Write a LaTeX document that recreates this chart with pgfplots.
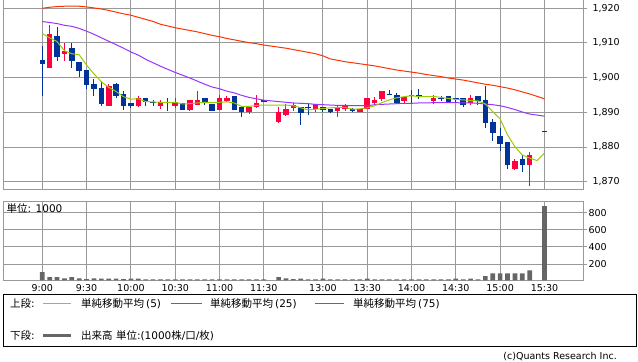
\documentclass[border=0pt]{standalone}
\usepackage{pgfplots}
\pgfplotsset{compat=1.18}
\usepackage{pgfplotstable}
\usepackage{fontspec}
\setmainfont{DejaVu Sans}
\newfontfamily\jp{Noto Sans CJK JP}
\definecolor{upc}{HTML}{FF0040}
\definecolor{dnc}{HTML}{003399}
\definecolor{maA}{HTML}{99CC00}
\definecolor{maB}{HTML}{9933FF}
\definecolor{maC}{HTML}{FF3300}
\definecolor{gridc}{HTML}{999999}
\definecolor{volc}{HTML}{666666}

\pgfplotstableread{
i B T L H
1 1902.9 1912.6 1902.9 1915.2
3 1906.9 1907.7 1904.8 1910.0
9 1891.9 1897.6 1891.9 1898.2
13 1891.8 1894.0 1891.5 1894.8
16 1891.9 1892.9 1890.9 1893.6
18 1891.9 1892.9 1891.2 1894.0
20 1890.7 1893.6 1890.4 1893.6
21 1892.1 1893.6 1892.1 1896.2
24 1890.7 1894.0 1890.7 1895.0
25 1893.3 1894.2 1892.9 1894.8
28 1890.0 1891.6 1889.4 1891.6
29 1891.6 1892.8 1891.3 1895.0
32 1887.3 1890.2 1887.0 1891.6
33 1889.2 1891.0 1889.0 1892.4
34 1891.3 1892.1 1890.4 1892.6
37 1891.0 1892.3 1890.2 1892.3
40 1890.4 1891.6 1888.7 1892.1
41 1891.0 1891.8 1890.4 1892.4
43 1890.0 1890.9 1890.0 1890.9
44 1890.9 1894.0 1890.9 1894.0
45 1892.6 1893.6 1892.1 1894.5
46 1893.9 1896.2 1893.4 1896.2
49 1893.4 1894.5 1892.8 1894.5
53 1893.4 1894.2 1892.4 1895.0
58 1892.7 1894.1 1892.0 1895.0
64 1873.7 1876.0 1873.4 1876.6
66 1874.9 1877.7 1868.8 1878.6
}\upT

\pgfplotstableread{
i B T L H
0 1904.0 1905.1 1894.8 1909.2
2 1905.9 1912.0 1904.8 1914.7
4 1904.9 1908.5 1902.9 1909.9
5 1902.0 1904.5 1900.3 1904.5
6 1898.0 1902.3 1896.6 1902.3
7 1896.8 1898.2 1894.8 1899.6
8 1892.5 1897.0 1891.9 1899.0
10 1894.7 1898.2 1894.2 1898.5
11 1891.9 1895.4 1890.8 1896.2
12 1891.9 1892.7 1891.3 1892.7
14 1892.9 1894.0 1891.9 1894.0
15 1892.6 1893.0 1891.9 1893.5
17 1892.6 1893.0 1890.4 1894.0
19 1890.7 1892.6 1890.7 1892.6
22 1892.9 1894.0 1892.1 1894.0
23 1890.5 1892.3 1890.5 1892.3
26 1890.7 1894.7 1890.7 1894.7
27 1890.0 1891.6 1888.7 1891.6
30 1893.1 1893.6 1893.1 1893.6
35 1889.9 1891.5 1886.3 1891.5
36 1891.2 1891.5 1889.2 1892.3
38 1890.7 1891.6 1890.0 1891.6
39 1890.2 1891.0 1889.7 1891.0
42 1890.5 1890.9 1890.0 1891.3
47 1894.9 1895.2 1894.9 1896.4
48 1892.8 1895.0 1892.8 1895.5
50 1894.7 1894.9 1892.6 1896.4
51 1894.8 1895.0 1893.9 1896.6
54 1893.9 1894.2 1893.3 1894.6
55 1892.9 1894.6 1892.9 1894.6
56 1893.8 1894.0 1893.0 1894.0
57 1892.0 1894.0 1891.5 1894.0
59 1893.3 1894.6 1892.0 1894.6
60 1887.0 1893.6 1885.4 1897.6
61 1884.0 1887.2 1881.8 1888.1
62 1880.9 1883.2 1878.9 1885.4
63 1874.9 1881.5 1873.6 1881.5
65 1874.9 1876.5 1872.9 1877.7
68 1884.4 1884.6 1884.4 1884.6
}\dnT

\pgfplotstableread{
i a b c
0 1912.7 1916.2 1920.0
1 1911.5 1915.9 1920.3
2 1910.4 1915.6 1920.5
3 1907.8 1915.1 1920.6
4 1906.9 1914.8 1920.6
5 1906.6 1914.2 1920.6
6 1903.6 1913.4 1920.4
7 1901.1 1912.5 1920.1
8 1898.8 1911.5 1919.8
9 1897.2 1910.5 1919.4
10 1896.0 1909.5 1918.9
11 1894.5 1908.5 1918.4
12 1893.8 1907.4 1918.0
13 1893.9 1906.5 1917.4
14 1893.1 1905.3 1916.8
15 1893.0 1904.3 1916.2
16 1892.9 1903.3 1915.4
17 1892.9 1902.4 1914.9
18 1892.9 1901.5 1914.4
19 1892.4 1900.7 1914.0
20 1892.5 1899.9 1913.6
21 1892.7 1899.0 1913.2
22 1892.9 1898.1 1912.7
23 1892.8 1897.3 1912.2
24 1892.9 1896.8 1911.8
25 1893.0 1896.1 1911.3
26 1892.7 1895.6 1910.9
27 1891.7 1894.9 1910.5
28 1891.7 1894.3 1910.1
29 1892.0 1893.9 1909.8
30 1892.1 1893.5 1909.4
32 1892.1 1893.1 1908.8
33 1892.1 1892.9 1908.5
34 1891.9 1892.7 1908.1
35 1891.3 1892.6 1907.7
36 1890.7 1892.5 1907.3
37 1890.9 1892.3 1906.9
38 1891.1 1892.2 1906.3
39 1891.3 1892.1 1905.4
40 1891.4 1892.0 1905.0
41 1891.4 1892.0 1904.6
42 1890.9 1891.9 1904.3
43 1891.0 1891.9 1904.0
44 1891.3 1891.9 1903.7
45 1891.9 1892.2 1903.4
46 1892.8 1892.3 1903.0
47 1893.6 1892.4 1902.6
48 1894.2 1892.5 1902.2
49 1894.5 1892.6 1901.9
50 1894.8 1892.6 1901.6
51 1894.5 1892.7 1901.3
52 1894.5 1892.7 1900.9
53 1894.6 1892.8 1900.6
54 1894.3 1892.8 1900.3
55 1894.0 1892.8 1899.9
56 1893.7 1892.8 1899.6
57 1893.6 1892.7 1899.3
58 1893.4 1892.7 1898.9
59 1893.3 1892.6 1898.5
60 1892.4 1892.4 1898.1
61 1890.2 1892.2 1897.8
62 1888.1 1891.9 1897.4
63 1883.5 1891.4 1897.0
64 1880.1 1890.8 1896.5
65 1877.7 1890.1 1895.9
66 1876.8 1889.5 1895.3
67 1876.1 1889.2 1894.6
68 1878.2 1888.9 1893.9
}\maT

\pgfplotstableread{
i v
0 106
1 48
2 48
3 33
4 48
5 33
6 25
7 33
8 30
9 30
10 30
11 25
12 30
13 30
14 22
15 22
16 22
17 22
18 22
19 22
20 22
21 22
22 22
23 22
24 22
25 22
26 22
27 22
28 22
29 22
30 22
32 48
33 33
34 25
35 30
36 22
37 22
38 30
39 22
40 22
41 22
42 22
43 22
44 30
45 22
46 22
47 22
48 22
49 22
50 22
51 22
52 22
53 22
54 22
55 22
56 30
57 22
58 30
59 22
60 60
61 91
62 91
63 91
64 91
65 91
66 126
68 877
}\volT

\pgfplotsset{
  panel/.style={
    scale only axis, width=580bp,
    xmin=-5.32, xmax=73.22,
    xtick={0,6,12,18,24,30,38,44,50,56,62,68},
    grid=major, major grid style={gridc, line width=1bp},
    axis line style={gridc, line width=1bp},
    ytick style={gridc, line width=1bp},
    xtick style={draw=none},
    major tick length=4bp, tick align=outside,
    ytick pos=right, yticklabel pos=right,
    tick label style={font=\fontsize{9.5bp}{11bp}\selectfont, black},
    /pgf/number format/1000 sep={,},
    /pgf/number format/assume math mode=true,
  }
}

\begin{document}
\begin{tikzpicture}
\useasboundingbox (0bp,0bp) rectangle (638bp,362bp);
\begin{axis}[panel,
  at={(3bp,172bp)}, anchor=south west, height=190.5bp,
  ymin=1867.6, ymax=1922.54,
  ytick={1870,1880,...,1920},
  xticklabels={},
  yticklabel style={anchor=west, xshift=2bp},
]
% wicks
\addplot[draw=none, mark=none, forget plot, error bars/.cd, y dir=plus, y explicit, error mark=none,
  error bar style={draw=upc, line width=1bp}]
  table[x=i, y=L, y error expr=\thisrow{H}-\thisrow{L}] {\upT};
\addplot[draw=none, mark=none, forget plot, error bars/.cd, y dir=plus, y explicit, error mark=none,
  error bar style={draw=dnc, line width=1bp}]
  table[x=i, y=L, y error expr=\thisrow{H}-\thisrow{L}] {\dnT};
% bodies
\addplot[draw=none, mark=none, forget plot, error bars/.cd, y dir=plus, y explicit, error mark=none,
  error bar style={draw=upc, line width=5.5bp}]
  table[x=i, y=B, y error expr=\thisrow{T}-\thisrow{B}] {\upT};
\addplot[draw=none, mark=none, forget plot, error bars/.cd, y dir=plus, y explicit, error mark=none,
  error bar style={draw=dnc, line width=5.5bp}]
  table[x=i, y=B, y error expr=\thisrow{T}-\thisrow{B}] {\dnT};
% moving averages
\addplot[maC, line width=1bp, mark=none] table[x=i, y=c] {\maT};
\addplot[maB, line width=1bp, mark=none] table[x=i, y=b] {\maT};
\addplot[maA, line width=1bp, mark=none] table[x=i, y=a] {\maT};
\end{axis}

\begin{axis}[panel,
  at={(3bp,81.7bp)}, anchor=south west, height=78.6bp,
  ymin=10, ymax=928,
  ytick={200,400,600,800},
  xticklabels={9:00,9:30,10:00,10:30,11:00,11:30,13:00,13:30,14:00,14:30,15:00,15:30},
  xticklabel style={anchor=north, yshift=3.5bp},
  yticklabel style={anchor=west, xshift=-2bp},
]
\addplot[ybar, bar width=4.7bp, bar shift=0pt, fill=volc, draw=none] table[x=i, y=v] {\volT};
\end{axis}

\node[anchor=west, inner sep=0pt, font=\fontsize{10.5bp}{12bp}\selectfont] at (6.5bp,153bp) {{\jp 単位}: 1000};

% legend
\draw[black, line width=1bp] (3.5bp,15bp) rectangle (636bp,67.5bp);
\begin{scope}[every node/.style={anchor=west, inner sep=0pt, font=\fontsize{10.5bp}{12bp}\selectfont}]
\node at (10bp,58.5bp) {{\jp 上段}:};
\draw[maA, line width=1bp] (43bp,58.5bp) -- (71bp,58.5bp);
\node at (81bp,58.5bp) {{\jp 単純移動平均}\hspace{2bp}(5)};
\draw[maB, line width=1bp] (171bp,58.5bp) -- (202bp,58.5bp);
\node at (210bp,58.5bp) {{\jp 単純移動平均}\hspace{2bp}(25)};
\draw[maC, line width=1bp] (315bp,58.5bp) -- (344bp,58.5bp);
\node at (353bp,58.5bp) {{\jp 単純移動平均}\hspace{2bp}(75)};
\node at (10bp,26bp) {{\jp 下段}:};
\draw[volc, line width=3bp] (43bp,26bp) -- (71bp,26bp);
\node at (81bp,26bp) {{\jp 出来高} {\jp 単位}:(1000{\jp 株}/{\jp 口}/{\jp 枚})};
\end{scope}
\node[anchor=east, inner sep=0pt, font=\fontsize{9.5bp}{11bp}\selectfont] at (617bp,5.5bp) {(c)Quants Research Inc.};
\end{tikzpicture}
\end{document}
